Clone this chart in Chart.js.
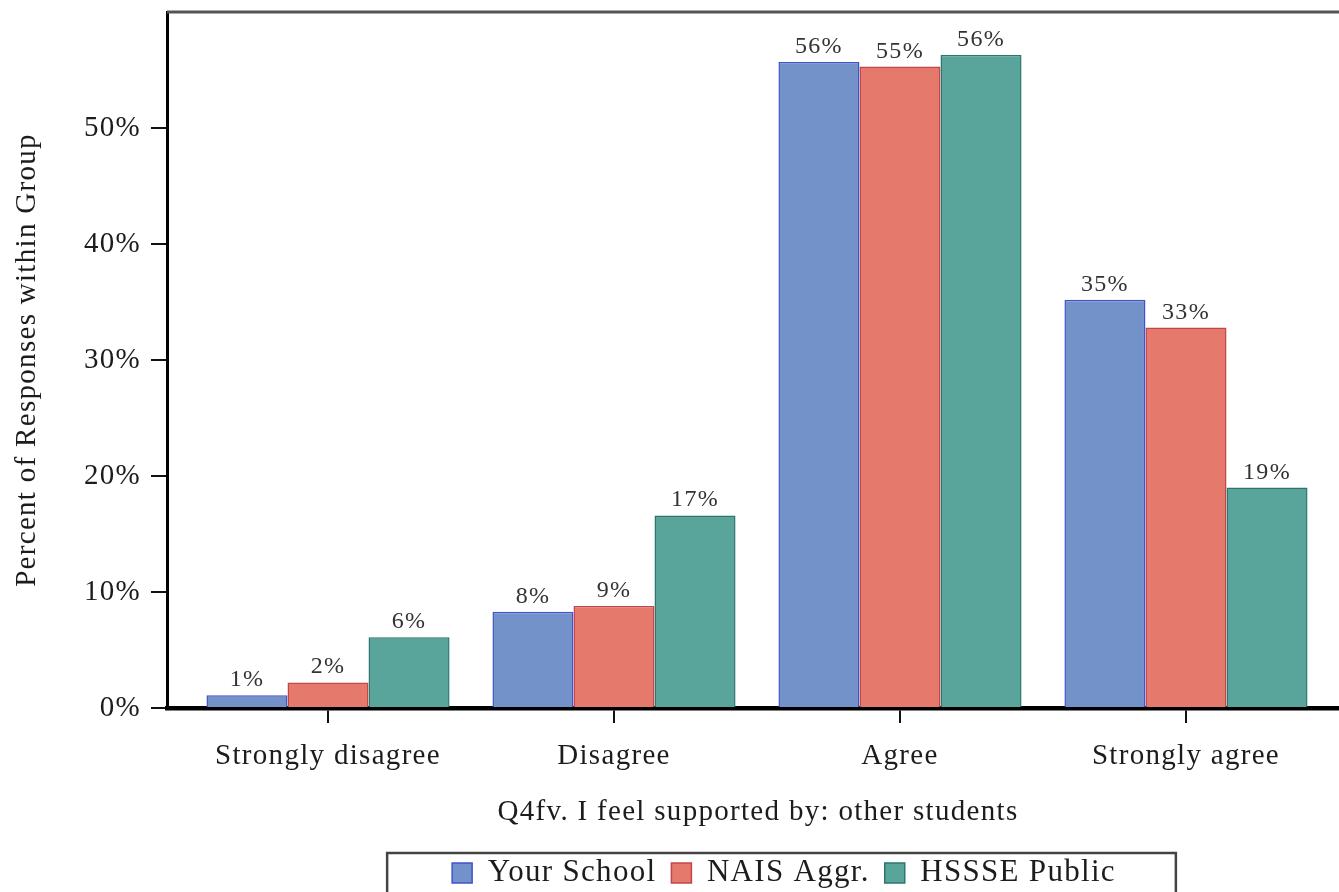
<!DOCTYPE html>
<html>
<head>
<meta charset="utf-8">
<script src="https://cdn.jsdelivr.net/npm/chart.js@4.4.0/dist/chart.umd.min.js"></script>
<style>
    html, body { margin: 0; padding: 0; background: #fff; }
    #quadro { width: 1339px; height: 892px; overflow: hidden; }
    canvas { display: block; }
</style>
</head>
<body>
<div id="quadro"><canvas id="grafico" width="1514" height="910"></canvas></div>
<script>
const categorias = ["Strongly disagree", "Disagree", "Agree", "Strongly agree"];
const seriesNomes = ["Your School", "NAIS Aggr.", "HSSSE Public"];
const yourSchool = [1.1, 8.3, 55.7, 35.2];
const naisAggr = [2.2, 8.8, 55.3, 32.8];
const hssePublic = [6.1, 16.6, 56.3, 19.0];
const ticksY = [0, 10, 20, 30, 40, 50];

const fonte = '"Liberation Serif", "Times New Roman", serif';
Chart.defaults.font.family = fonte;
Chart.defaults.color = '#1c1c1c';

// espaçamento das letras (o texto do original é mais largo que o Times)
const espacamento = {
    id: 'espacamento',
    beforeUpdate(chart) { chart.ctx.letterSpacing = '1.3px'; },
    beforeDraw(chart) { chart.ctx.letterSpacing = '1.3px'; }
};

// rótulos de percentagem acima das barras
const rotulos = {
    id: 'rotulos',
    afterDatasetsDraw(chart) {
        let ctx = chart.ctx;
        ctx.save();
        ctx.font = '24px ' + fonte;
        ctx.fillStyle = '#333';
        ctx.textAlign = 'center';
        ctx.textBaseline = 'alphabetic';
        chart.data.datasets.forEach((ds, i) => {
            chart.getDatasetMeta(i).data.forEach((barra, j) => {
                ctx.fillText(Math.round(ds.data[j].y) + '%', barra.x, barra.y - 9);
            });
        });
        ctx.restore();
    }
};

// linha de cima e caixa da legenda
const moldura = {
    id: 'moldura',
    afterLayout(chart) {
        // a legenda do original fica um pouco à direita do centro
        chart.legend.left += 26;
        chart.legend.right += 26;
    },
    afterDraw(chart) {
        let ctx = chart.ctx;
        let area = chart.chartArea;
        ctx.save();
        ctx.strokeStyle = '#555';
        ctx.lineWidth = 3;
        ctx.beginPath();
        ctx.moveTo(area.left, area.top);
        ctx.lineTo(chart.width, area.top);
        ctx.stroke();

        let caixas = chart.legend.legendHitBoxes;
        let esq = Math.min(...caixas.map(c => c.left)) - 65;
        let dir = Math.max(...caixas.map(c => c.left + c.width)) + 60;
        let topo = caixas[0].top - 4.5;
        ctx.strokeStyle = '#444';
        ctx.lineWidth = 2.5;
        ctx.strokeRect(esq, topo, dir - esq, chart.height);
        ctx.restore();
    }
};

const paraPontos = valores => valores.map((v, i) => ({ x: i, y: v }));

let ctx = document.getElementById("grafico").getContext("2d");
window.myChart = new Chart(ctx, {
    type: 'bar',
    data: {
        datasets: [
            { label: seriesNomes[0], data: paraPontos(yourSchool), backgroundColor: '#7292c9', borderColor: '#4152cc', borderWidth: 1.5 },
            { label: seriesNomes[1], data: paraPontos(naisAggr), backgroundColor: '#e57a6c', borderColor: '#c2454b', borderWidth: 1.5 },
            { label: seriesNomes[2], data: paraPontos(hssePublic), backgroundColor: '#59a49b', borderColor: '#2c776d', borderWidth: 1.5 }
        ]
    },
    options: {
        responsive: false,
        animation: false,
        devicePixelRatio: 1,
        categoryPercentage: 0.85,
        barPercentage: 1.0,
        layout: { padding: { top: 12, right: 165, bottom: 11.5, left: 0 } },
        scales: {
            x: {
                type: 'linear',
                min: -0.563,
                max: 3.57,
                offset: false,
                afterBuildTicks: s => { s.ticks = categorias.map((c, i) => ({ value: i })); },
                afterFit: s => { s.height = 134.5; s.paddingLeft = 0; s.paddingRight = 0; },
                ticks: {
                    callback: v => categorias[v],
                    font: { size: 29 },
                    padding: 16,
                    maxRotation: 0
                },
                grid: { drawOnChartArea: false, offset: false, tickLength: 15, color: '#111', lineWidth: 2 },
                border: { display: true, color: '#000', width: 4.5 },
                title: {
                    display: true,
                    text: 'Q4fv. I feel supported by: other students',
                    font: { size: 29 },
                    padding: { top: 0, bottom: 13 }
                }
            },
            y: {
                min: 0,
                max: 60,
                afterBuildTicks: s => { s.ticks = ticksY.map(v => ({ value: v })); },
                afterFit: s => { s.width = 167; s.paddingTop = 0; s.paddingBottom = 0; },
                ticks: {
                    callback: v => v + '%',
                    font: { size: 29 },
                    padding: 10
                },
                grid: { drawOnChartArea: false, tickLength: 16, color: '#111', lineWidth: 2 },
                border: { display: true, color: '#000', width: 3 },
                title: {
                    display: true,
                    text: 'Percent of Responses within Group',
                    font: { size: 29 },
                    padding: { top: 10, bottom: 0 }
                }
            }
        },
        plugins: {
            legend: {
                position: 'bottom',
                fullSize: false,
                labels: {
                    boxWidth: 20,
                    boxHeight: 20,
                    padding: 15,
                    font: { size: 31 }
                }
            },
            tooltip: { enabled: false }
        }
    },
    plugins: [espacamento, rotulos, moldura]
});
</script>
</body>
</html>
